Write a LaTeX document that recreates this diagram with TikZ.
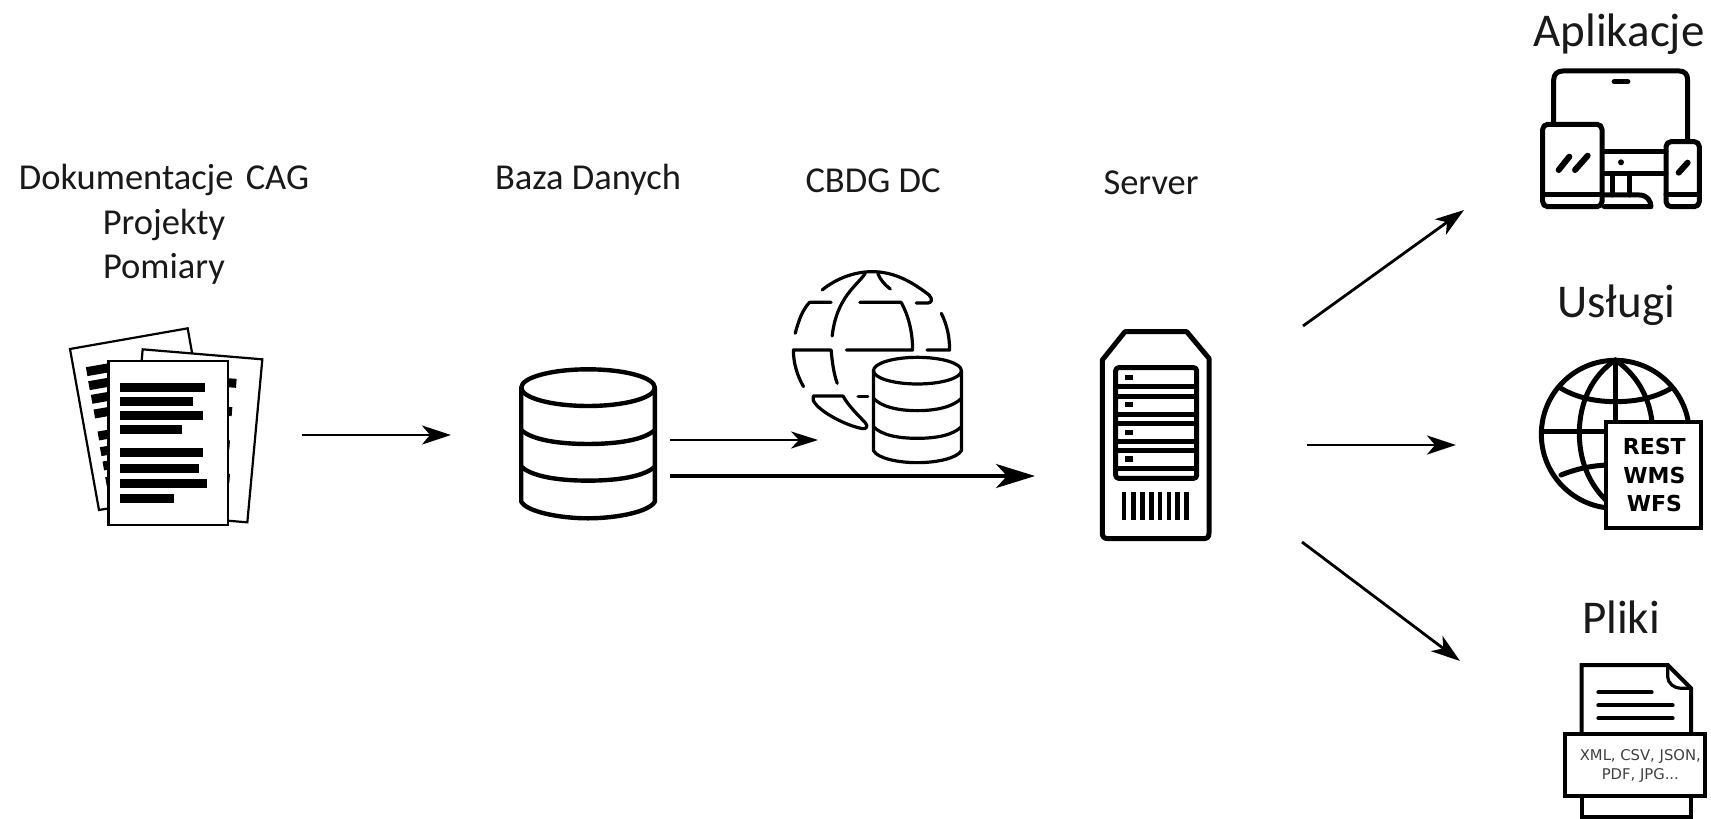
\documentclass[tikz,border=0pt]{standalone}
\usepackage{fontspec}
\setmainfont{Carlito}
\newfontfamily\iconfont{DejaVu Sans}
\usetikzlibrary{arrows.meta}
\tikzset{
  smalllabel/.style={font=\fontsize{36.5}{44.5}\selectfont,inner sep=0pt,anchor=center,text=black!90},
  biglabel/.style={font=\fontsize{47}{54}\selectfont,inner sep=0pt,anchor=center,text=black!90},
  sheet/.style={draw=black,line width=2.2pt,fill=white,line join=miter},
  bar/.style={line width=9pt},
  icon/.style={draw=black,line width=5pt,line join=round,line cap=round},
  dbline/.style={draw=black,line width=4.4pt,line join=round,line cap=round},
  iconthin/.style={draw=black,line width=3.2pt,line join=round,line cap=round},
  flow/.style={line width=2.8pt,-{Stealth[length=29pt,width=19pt,inset=8pt]}},
  flowsmall/.style={line width=2.8pt,-{Stealth[length=27pt,width=17pt,inset=8pt]}},
  flowbig/.style={line width=3.8pt,-{Stealth[length=39pt,width=24pt,inset=11pt]}},
  apiword/.style={font=\iconfont\bfseries\fontsize{22}{26}\selectfont,inner sep=0pt,text=black},
  fileword/.style={font=\iconfont\fontsize{14.8}{18}\selectfont,inner sep=0pt,text=black!75},
}
\begin{document}
\begin{tikzpicture}[x=1pt,y=-1pt]
\useasboundingbox (0,0) rectangle (1711,819);
\fill[white] (0,0) rectangle (1711,819);

% ---------- labels
\node[smalllabel,align=center,text width=320pt] (docsLabel) at (164,224.5) {Dokumentacje CAG\\Projekty\\Pomiary};
\node[smalllabel] (dbLabel) at (588,180) {Baza Danych};
\node[smalllabel] (dcLabel) at (873,181) {CBDG DC};
\node[smalllabel] (srvLabel) at (1151,183) {Server};
\node[biglabel] (appLabel) at (1619,34) {Aplikacje};
\node[biglabel] (svcLabel) at (1616,305) {Usługi};
\node[biglabel] (fileLabel) at (1621,617) {Pliki};

% ---------- documents
\begin{scope}[shift={(0,300)},scale=1/3]
  \draw[sheet] (210,147) -- (563,85) -- (650,570) -- (297,630) -- cycle;
  \foreach \a/\b in {260/215,267/257,275/298,283/342,295/408,302/455,310/498,318/545}
    \draw[bar] (\a,\b+0) -- ++(120,-21);
  \draw[sheet] (428,148) -- (787,178) -- (742,667) -- (385,637) -- cycle;
  \foreach \a/\b in {709/250,696/335,689/435,689/535}
    \draw[bar] (\a,\b) -- ++(-80,-6);
  \draw[sheet,line width=2.6pt] (326,183) rectangle (684,675);
  \foreach \b/\e in {262/615,304/580,347/608,389/547,458/610,504/596,549/620,595/522}
    \draw[bar] (361,\b) -- (\e,\b);
\end{scope}

% ---------- big database
\begin{scope}[shift={(480,240)},x=0.359pt,y=-0.3333pt]
  \draw[dbline] (115,443) -- (115,785) .. controls (130,815) and (220,835) .. (301,835)
     .. controls (382,835) and (472,815) .. (487,785) -- (487,443);
  \draw[dbline] (301,443) ellipse [x radius=186,y radius=55];
  \draw[dbline] (115,570) .. controls (145,600) and (220,612) .. (301,612) .. controls (382,612) and (457,600) .. (487,570);
  \draw[dbline] (115,680) .. controls (145,710) and (220,722) .. (301,722) .. controls (382,722) and (457,710) .. (487,680);
\end{scope}

% ---------- dashed globe with small database
\begin{scope}[shift={(477.5,240)},x=0.359pt,y=-0.3333pt]
  \draw[iconthin] (960,150) .. controls (1000,115) and (1050,95) .. (1100,95) .. controls (1160,95) and (1210,125) .. (1258,165) .. controls (1268,178) and (1266,188) .. (1255,189) -- (1222,189);
  \draw[iconthin] (1080,100) .. controls (1060,135) and (1000,170) .. (988,288);
  \draw[iconthin] (1115,100) .. controls (1122,120) and (1135,135) .. (1150,147);
  \draw[iconthin] (885,280) .. controls (895,240) and (905,210) .. (925,187) -- (985,187);
  \draw[iconthin] (1065,187) -- (1180,187) .. controls (1200,225) and (1212,275) .. (1212,330) -- (1028,330);
  \draw[iconthin] (1292,220) .. controls (1308,255) and (1315,290) .. (1315,330) -- (1252,330);
  \draw[iconthin] (908,440) .. controls (890,405) and (880,370) .. (880,330) -- (985,330) .. controls (988,365) and (992,400) .. (1002,430);
  \draw[iconthin] (935,468) -- (1018,468) .. controls (1035,500) and (1060,525) .. (1080,548) .. controls (1090,560) and (1082,568) .. (1072,566) .. controls (1020,555) and (945,510) .. (935,480) -- cycle;
  \draw[iconthin] (1060,470) -- (1087,470);
  % small database
  \draw[iconthin] (1103,392) -- (1103,632) .. controls (1115,655) and (1170,668) .. (1225,668)
     .. controls (1280,668) and (1335,655) .. (1348,632) -- (1348,392);
  \draw[iconthin] (1225.5,392) ellipse [x radius=122.5,y radius=40];
  \draw[iconthin] (1103,475) .. controls (1125,500) and (1170,512) .. (1225,512) .. controls (1280,512) and (1325,500) .. (1348,475);
  \draw[iconthin] (1103,560) .. controls (1125,585) and (1170,595) .. (1225,595) .. controls (1280,595) and (1325,585) .. (1348,560);
\end{scope}

% ---------- server
\begin{scope}[shift={(1060,300)},scale=1/3]
  \draw[icon] (127,180) -- (195,95) -- (380,95) -- (447,175) -- (447,700) .. controls (447,712) and (440,716) .. (430,716)
     -- (145,716) .. controls (132,716) and (127,710) .. (127,700) -- cycle;
  \draw[icon,rounded corners=3pt] (167,203) rectangle (410,535);
  \foreach \y in {260,288,343,370,424,452,504}
    \draw[draw=black,line width=5pt] (167,\y) -- (410,\y);
  \foreach \y in {232,314,397,477}
    \fill[black] (196,\y-8) rectangle (220,\y+8);
  \foreach \x in {192,220,247,274,300,327,353,380}
    \draw[draw=black,line width=4.6pt] (\x,575) -- (\x,660);
\end{scope}

% ---------- devices
\begin{scope}[shift={(1511,0)},scale=1/3]
  \draw[icon] (128,365) -- (128,240) .. controls (128,222) and (140,213) .. (155,213) -- (505,213) .. controls (520,213) and (530,222) .. (530,240) -- (530,420);
  \draw[icon,line width=5.5pt] (310,245) -- (350,245);
  \draw[icon,rounded corners=5pt] (95,373) rectangle (273,620);
  \draw[icon] (95,585) -- (273,585);
  \draw[icon,line width=6pt] (143,510) -- (175,470);
  \draw[icon,line width=6pt] (192,510) -- (230,467);
  \draw[icon,rounded corners=5pt] (465,425) rectangle (565,620);
  \draw[icon] (465,585) -- (565,585);
  \draw[icon,line width=6pt] (503,518) -- (530,488);
  \draw[icon] (280,455) -- (465,455);
  \draw[icon] (280,520) -- (465,520);
  \fill[black] (330,487) circle (9);
  \draw[icon] (303,520) -- (303,585);
  \draw[icon] (355,520) -- (355,585);
  \draw[icon] (280,585) -- (385,585) .. controls (410,585) and (420,605) .. (420,620) -- (280,620);
\end{scope}

% ---------- service globe
\begin{scope}[shift={(1511,340)},scale=1/3]
  \draw[icon] (313,283) circle (222);
  \draw[icon] (313,60) -- (313,500);
  \draw[icon] (95,275) -- (531,275);
  \draw[icon] (313,60) .. controls (240,110) and (205,190) .. (205,280) .. controls (205,370) and (240,450) .. (313,505);
  \draw[icon] (313,60) .. controls (386,110) and (425,190) .. (425,280);
  \draw[icon] (150,145) .. controls (200,175) and (260,185) .. (313,185) .. controls (370,185) and (430,175) .. (480,145);
  \draw[icon] (150,405) .. controls (200,385) and (250,375) .. (300,375);
  \draw[draw=black,line width=4pt,fill=white] (285,245) rectangle (570,565);
  \node[apiword] (apiRest) at (430,318) {REST};
  \node[apiword] (apiWms) at (430,405) {WMS};
  \node[apiword] (apiWfs) at (430,490) {WFS};
\end{scope}

% ---------- file
\begin{scope}[shift={(1511,640)},scale=1/3]
  \draw[icon,line cap=butt,line join=miter,line width=4pt] (212,282) -- (212,75) -- (470,75) -- (540,145) -- (540,282);
  \draw[iconthin] (470,78) -- (470,110) .. controls (470,130) and (490,145) .. (510,145) -- (538,145);
  \draw[icon,line width=4pt] (262,157) -- (422,157);
  \draw[icon,line width=4pt] (262,196) -- (485,196);
  \draw[icon,line width=4pt] (262,235) -- (485,235);
  \draw[icon,line join=miter,line width=4pt] (162,282) rectangle (583,468);
  \node[fileword] (fileA) at (388,350) {XML, CSV, JSON,};
  \node[fileword] (fileB) at (388,405) {PDF, JPG...};
  \draw[icon,line cap=butt,line join=miter,line width=4pt] (212,468) -- (212,530) -- (540,530) -- (540,468);
\end{scope}

% ---------- connector ends
\coordinate (docsOut) at (302,435);
\coordinate (dbIn) at (451,435);
\coordinate (dbOutA) at (670,440);
\coordinate (dcIn) at (818,440);
\coordinate (dbOutB) at (670,476);
\coordinate (srvIn) at (1035,476);
\coordinate (srvOutA) at (1303,326);
\coordinate (appIn) at (1464,210);
\coordinate (srvOutB) at (1307,445);
\coordinate (svcIn) at (1456,445);
\coordinate (srvOutC) at (1302,542);
\coordinate (fileIn) at (1460,661);

\draw[flow] (docsOut) -- (dbIn);
\draw[flowsmall] (dbOutA) -- (dcIn);
\draw[flowbig] (dbOutB) -- (srvIn);
\draw[flow] (srvOutA) -- (appIn);
\draw[flow] (srvOutB) -- (svcIn);
\draw[flow] (srvOutC) -- (fileIn);
\end{tikzpicture}
\end{document}
